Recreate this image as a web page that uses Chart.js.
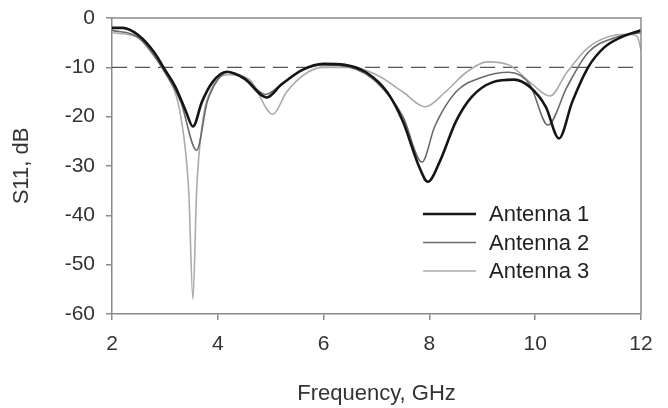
<!DOCTYPE html>
<html>
<head>
<meta charset="utf-8">
<script src="https://cdn.jsdelivr.net/npm/chart.js@4"></script>
<style>
  html, body { margin: 0; padding: 0; background: #fff; }
  #wrap { width: 668px; height: 408px; }
</style>
</head>
<body>
<div id="wrap"><canvas id="chart" width="668" height="408"></canvas></div>
<script>
// frequency (GHz) and S11 (dB)
const freq1 = [2.0, 2.2, 2.5, 2.8, 3.0, 3.2, 3.4, 3.53, 3.7, 3.9, 4.17, 4.5, 4.93, 5.2, 5.6, 6.0, 6.4, 6.8, 7.2, 7.5, 7.8, 7.97, 8.2, 8.5, 8.8, 9.2, 9.6, 9.9, 10.2, 10.45, 10.7, 11.0, 11.3, 11.6, 12.0];
const ant1 = [-2, -2, -3.5, -7, -10.5, -14, -19, -22, -17, -13, -10.9, -12.3, -16.1, -13.5, -10.5, -9.3, -9.5, -11, -15, -21, -30, -33.2, -29, -21, -16, -13, -12.5, -14, -18, -24.4, -17, -10, -6, -4, -2.5];

const freq2 = [2.0, 2.5, 3.0, 3.3, 3.6, 3.8, 4.0, 4.2, 4.5, 4.9, 5.2, 5.6, 6.0, 6.5, 7.0, 7.5, 7.86, 8.1, 8.5, 9.0, 9.5, 9.9, 10.24, 10.6, 11.0, 11.5, 12.0];
const ant2 = [-2.5, -4, -11, -17, -26.8, -17, -12.5, -11, -12, -15.5, -13.5, -10.5, -9.5, -10, -13, -20, -29.2, -22, -15, -12, -11, -13.5, -21.7, -14, -7, -4, -3];

const freq3 = [2.0, 2.5, 3.0, 3.3, 3.45, 3.53, 3.6, 3.7, 3.9, 4.2, 4.6, 5.04, 5.3, 5.7, 6.0, 6.5, 7.0, 7.5, 7.92, 8.3, 8.7, 9.1, 9.5, 9.9, 10.28, 10.6, 11.0, 11.5, 11.8, 11.93, 12.0];
const ant3 = [-3, -4, -11, -20, -35, -57, -35, -22, -14, -11.5, -12.5, -19.5, -15, -11, -10, -10, -11.5, -15, -18, -15, -11, -8.9, -9.5, -13, -15.8, -11, -6, -3.5, -3.3, -3.8, -6.5];

const refFreq = [2, 12];
const refLevel = [-10, -10];

const labels = ["Antenna 1", "Antenna 2", "Antenna 3"];
const xTicks = [2, 4, 6, 8, 10, 12];
const yTicks = [0, -10, -20, -30, -40, -50, -60];

function pts(xs, ys) {
  return xs.map((x, i) => ({ x, y: ys[i] }));
}

const FONT = "'Liberation Sans', Arial, sans-serif";

// frame on top/right + legend inside the plot
const framePlugin = {
  id: "frame",
  afterDatasetsDraw(chart) {
    const { ctx, chartArea: a } = chart;
    ctx.save();
    ctx.strokeStyle = "#8a8a8a";
    ctx.lineWidth = 1.5;
    ctx.beginPath();
    ctx.moveTo(a.left, a.top);
    ctx.lineTo(a.right, a.top);
    ctx.lineTo(a.right, a.bottom);
    ctx.stroke();

    const x0 = a.left + 311, y0 = a.top + 196, dy = 28.5;
    ctx.font = "22px " + FONT;
    ctx.textBaseline = "middle";
    chart.data.datasets.slice(0, 3).forEach((ds, i) => {
      const y = y0 + i * dy;
      ctx.strokeStyle = ds.borderColor;
      ctx.lineWidth = ds.borderWidth;
      ctx.beginPath();
      ctx.moveTo(x0, y);
      ctx.lineTo(x0 + 53, y);
      ctx.stroke();
      ctx.fillStyle = "#222";
      ctx.fillText(ds.label, x0 + 66, y + 1);
    });
    ctx.restore();
  },
};

new Chart(document.getElementById("chart"), {
  type: "line",
  data: {
    datasets: [
      { label: labels[0], data: pts(freq1, ant1), borderColor: "#151515", borderWidth: 2.6, tension: 0.4, cubicInterpolationMode: "monotone" },
      { label: labels[1], data: pts(freq2, ant2), borderColor: "#6a6a6a", borderWidth: 1.6, tension: 0.4, cubicInterpolationMode: "monotone" },
      { label: labels[2], data: pts(freq3, ant3), borderColor: "#ababab", borderWidth: 1.6, tension: 0.4, cubicInterpolationMode: "monotone" },
      { label: "ref", data: pts(refFreq, refLevel), borderColor: "#555", borderWidth: 1.3, borderDash: [15, 8] },
    ],
  },
  options: {
    responsive: false,
    animation: false,
    layout: { padding: { top: 18, right: 27, left: 0, bottom: 0 } },
    elements: { point: { radius: 0 } },
    plugins: { legend: { display: false }, tooltip: { enabled: false } },
    scales: {
      x: {
        type: "linear",
        min: 2,
        max: 12,
        afterBuildTicks: (s) => { s.ticks = xTicks.map((v) => ({ value: v })); },
        afterFit: (s) => { s.height = 94; s.paddingLeft = 0; s.paddingRight = 0; },
        border: { color: "#8a8a8a", width: 1.5 },
        grid: { drawOnChartArea: false, drawTicks: true, tickLength: 6, color: "#8a8a8a", lineWidth: 1.5 },
        ticks: { color: "#333", font: { family: FONT, size: 21 }, padding: 12, maxRotation: 0 },
        title: { display: true, text: "Frequency, GHz", color: "#333", font: { family: FONT, size: 22 }, padding: { top: 18, bottom: 1 } },
      },
      y: {
        min: -60,
        max: 0,
        afterBuildTicks: (s) => { s.ticks = yTicks.map((v) => ({ value: v })); },
        afterFit: (s) => { s.width = 112; s.paddingTop = 0; s.paddingBottom = 0; },
        border: { color: "#8a8a8a", width: 1.5 },
        grid: { drawOnChartArea: false, drawTicks: true, tickLength: 6, color: "#8a8a8a", lineWidth: 1.5 },
        ticks: { color: "#333", font: { family: FONT, size: 21 }, padding: 11 },
        title: { display: true, text: "S11, dB", color: "#333", font: { family: FONT, size: 22 }, padding: { top: 9, bottom: 14 } },
      },
    },
  },
  plugins: [framePlugin],
});
</script>
</body>
</html>
